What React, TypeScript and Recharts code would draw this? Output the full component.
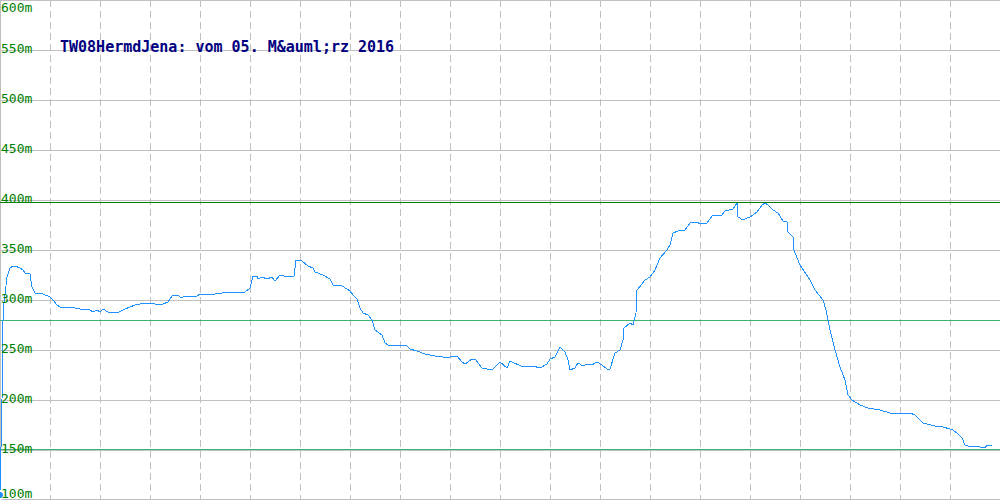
import React from 'react';
import {
  LineChart,
  Line,
  XAxis,
  YAxis,
  CartesianGrid,
  ReferenceLine,
} from 'recharts';

// horizontal position along the track (chart units 0..1000)
const distance = [
  0, 2, 3, 4, 7, 10, 13, 15, 20, 23, 25, 30, 32, 35, 43, 50, 53, 57, 60, 70,
  80, 90, 93, 97, 100, 103, 108, 117, 125, 135, 145, 155, 163, 168, 172, 178,
  181, 183, 197, 200, 208, 222, 235, 245, 250, 253, 257, 258, 262, 267, 272,
  275, 280, 288, 294, 296, 302, 308, 313, 315, 323, 330, 333, 342, 347, 350,
  353, 357, 360, 363, 368, 372, 375, 382, 385, 388, 400, 407, 410, 417, 425,
  435, 443, 450, 457, 462, 465, 472, 475, 482, 492, 495, 500, 507, 510, 523,
  533, 540, 547, 550, 555, 560, 565, 568, 570, 575, 578, 583, 587, 592, 597,
  602, 607, 610, 615, 620, 623, 624, 630, 633, 636, 637, 642, 645, 650, 655,
  660, 667, 670, 673, 678, 685, 690, 697, 700, 707, 712, 722, 725, 733, 737,
  738, 743, 747, 750, 757, 762, 765, 768, 773, 778, 783, 787, 788, 793, 794,
  797, 800, 810, 815, 823, 826, 830, 835, 840, 845, 848, 852, 860, 868, 880,
  890, 900, 910, 915, 920, 923, 935, 943, 950, 953, 958, 962, 965, 968, 980,
  985, 987, 992,
];

// altitude in metres
const altitude = [
  105, 200, 280, 297, 323, 332, 334, 334, 332, 330, 327, 326, 313, 307, 306,
  303, 300, 295, 293, 293, 291, 290, 288, 290, 288, 291, 288, 287, 291, 295,
  297, 296, 296, 298, 304, 305, 302, 303, 304, 306, 305, 307, 308, 308, 312,
  324, 324, 321, 323, 321, 323, 319, 325, 323, 324, 340, 339, 334, 332, 328,
  325, 321, 315, 314, 311, 309, 305, 301, 292, 287, 285, 280, 270, 265, 257,
  255, 255, 254, 251, 249, 246, 244, 243, 243, 244, 238, 236, 241, 241, 232,
  230, 233, 238, 232, 239, 233, 234, 232, 236, 241, 243, 253, 248, 240, 230,
  232, 237, 234, 236, 235, 238, 235, 231, 231, 247, 250, 260, 272, 277, 275,
  287, 310, 316, 320, 323, 330, 342, 350, 355, 367, 369, 370, 377, 378, 376,
  377, 384, 385, 389, 391, 397, 383, 380, 382, 383, 388, 395, 397, 395, 390,
  387, 379, 378, 368, 363, 350, 342, 335, 320, 310, 300, 290, 270, 250, 233,
  220, 205, 200, 195, 192, 190, 187, 186, 187, 185, 180, 177, 174, 173, 171,
  170, 166, 162, 155, 154, 153, 152, 155, 154,
];

const yTicks = [100, 150, 200, 250, 300, 350, 400, 450, 500, 550, 600];
const xTicks = [50, 100, 150, 200, 250, 300, 350, 400, 450, 500, 550, 600, 650, 700, 750, 800, 850, 900, 950];

// max, mid and min altitude marks
const maxLevel = 398;
const midLevel = 280;
const minLevel = 151;

const title = 'TW08HermdJena: vom 05. M&auml;rz 2016';

const data = distance.map((d, i) => ({ d, alt: altitude[i] }));

const MONO = '"DejaVu Sans Mono", monospace';

function YTick(props: any) {
  const { y, payload } = props;
  const v = payload.value;
  let baseline = y + 3;
  if (v === 600) baseline = 12;
  if (v === 100) baseline = 498;
  return (
    <text
      x={1}
      y={baseline}
      textAnchor="start"
      fill="#008000"
      fontFamily={MONO}
      fontSize={13}
    >
      {v}m
    </text>
  );
}

export default function App() {
  return (
    <div
      style={{
        position: 'absolute',
        left: 0,
        top: 0,
        width: 1000,
        height: 500,
        background: '#fff',
        boxShadow: 'inset 1px -1px 0 #c0c0c0',
      }}
    >
      <LineChart
        width={1000}
        height={500}
        data={data}
        margin={{ top: 0, right: 0, left: 0, bottom: 0 }}
      >
        <CartesianGrid vertical={false} stroke="#c0c0c0" shapeRendering="crispEdges" />
        <CartesianGrid
          horizontal={false}
          stroke="#c0c0c0"
          strokeDasharray="7 4"
          shapeRendering="crispEdges"
        />
        <XAxis
          dataKey="d"
          type="number"
          domain={[0, 1000]}
          ticks={xTicks}
          hide
        />
        <YAxis
          type="number"
          domain={[100, 600]}
          ticks={yTicks}
          mirror
          axisLine={false}
          tickLine={false}
          tick={<YTick />}
          interval={0}
        />
        <ReferenceLine y={maxLevel} stroke="#008000" shapeRendering="crispEdges" />
        <ReferenceLine y={midLevel} stroke="#3cb371" shapeRendering="crispEdges" />
        <ReferenceLine y={minLevel} stroke="#3cb371" shapeRendering="crispEdges" />
        <Line
          type="linear"
          dataKey="alt"
          stroke="#1e90ff"
          strokeWidth={1}
          dot={false}
          shapeRendering="crispEdges"
          isAnimationActive={false}
        />
      </LineChart>
      <div
        style={{
          position: 'absolute',
          left: 60,
          top: 40,
          fontFamily: MONO,
          fontWeight: 'bold',
          fontSize: 15,
          lineHeight: '15px',
          color: '#000080',
          whiteSpace: 'pre',
        }}
      >
        {title}
      </div>
    </div>
  );
}
